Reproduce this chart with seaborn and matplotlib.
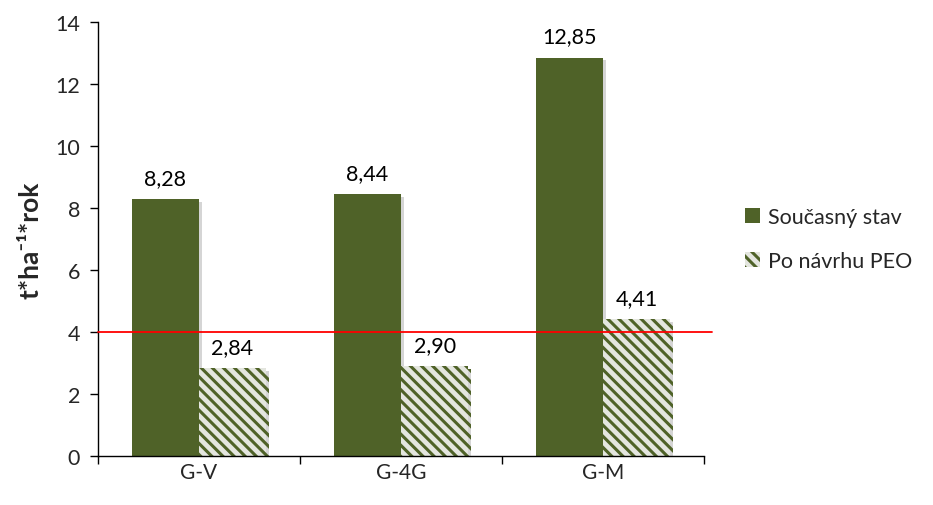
import matplotlib
matplotlib.use("Agg")
import matplotlib.pyplot as plt
import matplotlib.patheffects as pe
import pandas as pd
import seaborn as sns

categories = ["G-V", "G-4G", "G-M"]
series_names = ["Současný stav", "Po návrhu PEO"]
current_values = [8.28, 8.44, 12.85]
proposed_values = [2.84, 2.90, 4.41]
y_ticks = [0, 2, 4, 6, 8, 10, 12, 14]
limit_value = 4

df = pd.DataFrame({
    "kategorie": categories * 2,
    "hodnota": current_values + proposed_values,
    "stav": [series_names[0]] * 3 + [series_names[1]] * 3,
})

sns.set_theme(style="white")
plt.rcParams["font.family"] = ["Lato", "DejaVu Sans"]
plt.rcParams["hatch.linewidth"] = 2.2

green = "#4F6228"
light = "#e4e6df"

fig = plt.figure(figsize=(9.33, 5.06), dpi=100)
ax = fig.add_axes([0.105, 0.0968, 0.6497, 0.8577])

sns.barplot(data=df, x="kategorie", y="hodnota", hue="stav", ax=ax,
            palette=[green, green], width=0.664, saturation=1,
            edgecolor="none", linewidth=0, legend=True)

shadow = [pe.SimplePatchShadow(offset=(2, -2), shadow_rgbFace="#888888", alpha=0.35),
          pe.Normal()]
for i, cont in enumerate(ax.containers):
    for bar in cont:
        bar.set_path_effects(shadow)
        if i == 1:
            bar.set_facecolor(light)
            bar.set_edgecolor(green)
            bar.set_hatch("\\\\\\")
            bar.set_linewidth(0)
    ax.bar_label(cont, labels=[f"{v:.2f}".replace(".", ",") for v in cont.datavalues],
                 padding=8, fontsize=15.5, color="black")

ax.set_ylim(0, 14)
ax.set_xlim(-0.5, 2.5)
ax.set_yticks(y_ticks)
ax.set_yticklabels([str(t) for t in y_ticks], fontsize=15.5)
ax.tick_params(axis="x", labelsize=15, length=0, pad=4)
ax.tick_params(axis="y", left=True, length=6, width=1, color="black", pad=7)
ax.set_xticks([-0.5, 0.5, 1.5, 2.5], minor=True)
ax.tick_params(axis="x", which="minor", bottom=True, length=6, width=1, color="black")

for side in ["top", "right"]:
    ax.spines[side].set_visible(False)
for side in ["left", "bottom"]:
    ax.spines[side].set_color("black")
    ax.spines[side].set_linewidth(1)

ax.set_xlabel("")
ax.set_ylabel("t*ha⁻¹*rok", fontsize=19, fontweight="bold", labelpad=9)

ax.plot([-0.5, 2.54], [limit_value, limit_value], color="#ff0000", linewidth=1.3,
        clip_on=False, zorder=5)

handles, labels = ax.get_legend_handles_labels()
leg = ax.legend(handles, labels, loc="center left", bbox_to_anchor=(1.035, 0.5),
                frameon=False, fontsize=15.5, handlelength=0.7, handleheight=0.7,
                labelspacing=1.1, handletextpad=0.4)
for h in leg.legend_handles:
    h.set_path_effects([])
leg.legend_handles[1].set_facecolor(light)
leg.legend_handles[1].set_edgecolor(green)
leg.legend_handles[1].set_hatch("\\\\\\")
leg.legend_handles[1].set_linewidth(0)

fig.savefig("out.png", dpi=100)
